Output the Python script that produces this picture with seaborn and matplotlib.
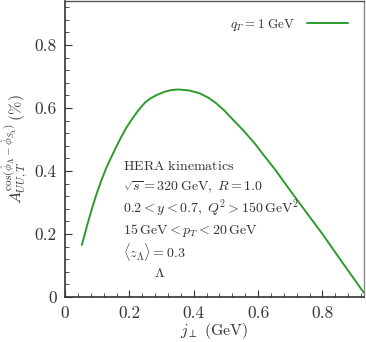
import matplotlib
matplotlib.use("Agg")
import matplotlib.pyplot as plt
from matplotlib.ticker import MultipleLocator
import pandas as pd
import seaborn as sns

# curve (q_T = 1 GeV)
j_perp = [0.052, 0.067, 0.082, 0.097, 0.113, 0.128, 0.144, 0.160, 0.175,
          0.190, 0.206, 0.227, 0.248, 0.266, 0.284, 0.310, 0.330, 0.351,
          0.385, 0.418, 0.445, 0.470, 0.495, 0.521, 0.555, 0.590, 0.620,
          0.654, 0.690, 0.720, 0.760, 0.800, 0.865, 0.929]
asym = [0.165, 0.222, 0.276, 0.325, 0.371, 0.410, 0.445, 0.479, 0.509,
        0.537, 0.562, 0.592, 0.617, 0.631, 0.641, 0.652, 0.657, 0.659,
        0.656, 0.647, 0.633, 0.615, 0.592, 0.564, 0.528, 0.487, 0.447,
        0.403, 0.352, 0.310, 0.255, 0.200, 0.105, 0.013]

x_ticks = [0, 0.2, 0.4, 0.6, 0.8]
y_ticks = [0, 0.2, 0.4, 0.6, 0.8]
kin_lines = [
    r"$\mathrm{HERA\ kinematics}$",
    r"$\sqrt{s} = 320\,\mathrm{GeV},\;R = 1.0$",
    r"$0.2 < y < 0.7,\;Q^2 > 150\,\mathrm{GeV}^2$",
    r"$15\,\mathrm{GeV} < p_T < 20\,\mathrm{GeV}$",
    r"$\langle z_\Lambda\rangle = 0.3$",
]

sns.set_style("ticks")
plt.rcParams["font.family"] = ["cmr10", "DejaVu Serif"]
plt.rcParams["mathtext.fontset"] = "cm"
plt.rcParams["axes.unicode_minus"] = False
plt.rcParams["axes.formatter.use_mathtext"] = True

df = pd.DataFrame({"j": j_perp, "A": asym})

fig = plt.figure(figsize=(3.66, 3.42), dpi=100)
ax = fig.add_axes([0.178, 0.132, 0.817, 0.865])

sns.lineplot(data=df, x="j", y="A", ax=ax, color="#2e9a2e", lw=1.4,
             label=r"$q_T = 1\ \mathrm{GeV}$")

ax.set_xlim(0, 0.93)
ax.set_ylim(0, 0.94)
ax.set_xticks(x_ticks)
ax.set_yticks(y_ticks)
ax.set_xticklabels(["0", "0.2", "0.4", "0.6", "0.8"])
ax.set_yticklabels(["0", "0.2", "0.4", "0.6", "0.8"])
ax.xaxis.set_minor_locator(MultipleLocator(0.04))
ax.yaxis.set_minor_locator(MultipleLocator(0.04))
ax.tick_params(which="both", direction="in", top=False, right=False,
               labelsize=12.5, colors="#333333")
ax.tick_params(which="major", length=5, width=0.8, pad=6)
ax.tick_params(which="minor", length=3, width=0.6)

for side in ["left", "bottom"]:
    ax.spines[side].set_color("#333333")
    ax.spines[side].set_linewidth(1.2)
ax.spines["top"].set_color("#555555")
ax.spines["right"].set_color("#888888")
for side in ["top", "right"]:
    ax.spines[side].set_visible(True)
    ax.spines[side].set_linewidth(1.0)

ax.set_xlabel(r"$j_\perp\ (\mathrm{GeV})$", fontsize=11.5, color="#333333",
              labelpad=0)
ax.set_ylabel(r"$A_{UU,T}^{\cos(\hat{\phi}_\Lambda - \hat{\phi}_{S_\Lambda})}\,(\%)$",
              fontsize=11.5, color="#333333", labelpad=3)

for i, line in enumerate(kin_lines):
    ax.text(0.18, 0.416 - i * 0.0685, line, fontsize=10.1, color="#333333",
            va="center", ha="left")
ax.text(0.294, 0.0755, r"$\Lambda$", fontsize=10.1, color="#333333",
        va="center", ha="center")

leg = ax.legend(loc="upper right", frameon=False, markerfirst=False,
                fontsize=9.5, handlelength=3.1, handletextpad=0.9,
                borderaxespad=0.8, labelcolor="#333333")

fig.savefig("out.png", dpi=100)
